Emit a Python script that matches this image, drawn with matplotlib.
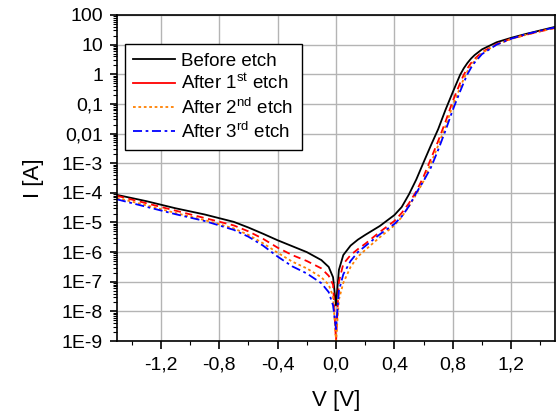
import numpy as np
import matplotlib
matplotlib.use("Agg")
import matplotlib.pyplot as plt
from matplotlib.lines import Line2D

plt.rcParams['font.family'] = ['Liberation Sans', 'DejaVu Sans']
plt.rcParams['mathtext.default'] = 'regular'

# bias points (V) shared by all sweeps
voltage = [-1.5, -1.3, -1.1, -0.9, -0.7, -0.6, -0.5, -0.4, -0.3, -0.2, -0.1, -0.05, -0.02,
           0.0, 0.02, 0.05, 0.1, 0.15, 0.2, 0.3, 0.4, 0.45, 0.5, 0.55, 0.6, 0.65, 0.7,
           0.75, 0.8, 0.85, 0.875, 0.9, 0.925, 0.95, 1.0, 1.1, 1.2, 1.3, 1.4, 1.5]

# log10 of |I| for each sweep
log_before = [-4.07, -4.28, -4.52, -4.73, -4.98, -5.17, -5.38, -5.6, -5.8, -6.0, -6.27, -6.5, -6.85,
              -7.8, -6.6, -6.1, -5.78, -5.58, -5.42, -5.12, -4.75, -4.48, -4.05, -3.55, -2.97, -2.4, -1.85,
              -1.2, -0.6, -0.02, 0.2, 0.38, 0.53, 0.65, 0.84, 1.08, 1.23, 1.36, 1.48, 1.6]
log_etch1 = [-4.1, -4.35, -4.6, -4.85, -5.1, -5.3, -5.55, -5.85, -6.1, -6.3, -6.55, -6.8, -7.1,
             -9.0, -7.0, -6.4, -6.1, -5.9, -5.72, -5.32, -4.95, -4.68, -4.35, -3.95, -3.45, -2.85, -2.25,
             -1.6, -0.9, -0.3, -0.02, 0.2, 0.38, 0.52, 0.75, 1.02, 1.2, 1.33, 1.45, 1.56]
log_etch2 = [-4.17, -4.42, -4.68, -4.92, -5.2, -5.42, -5.7, -6.02, -6.32, -6.55, -6.85, -7.1, -7.5,
             -9.0, -7.6, -7.04, -6.5, -6.15, -5.93, -5.5, -5.1, -4.82, -4.45, -4.05, -3.6, -3.0, -2.4,
             -1.75, -1.05, -0.45, -0.15, 0.1, 0.3, 0.46, 0.72, 1.0, 1.19, 1.33, 1.45, 1.56]
log_etch3 = [-4.22, -4.47, -4.72, -4.95, -5.25, -5.48, -5.78, -6.15, -6.48, -6.72, -7.05, -7.35, -7.8,
             -8.6, -7.3, -6.75, -6.3, -6.0, -5.8, -5.4, -5.05, -4.8, -4.45, -4.0, -3.6, -3.15, -2.55,
             -1.9, -1.2, -0.58, -0.28, 0.0, 0.22, 0.4, 0.68, 1.0, 1.2, 1.35, 1.47, 1.58]

y_ticks = [1e2, 1e1, 1e0, 1e-1, 1e-2, 1e-3, 1e-4, 1e-5, 1e-6, 1e-7, 1e-8, 1e-9]
y_labels = ['100', '10', '1', '0,1', '0,01', '1E-3', '1E-4', '1E-5', '1E-6', '1E-7', '1E-8', '1E-9']
x_ticks = [-1.2, -0.8, -0.4, 0.0, 0.4, 0.8, 1.2]
x_labels = ['-1,2', '-0,8', '-0,4', '0,0', '0,4', '0,8', '1,2']

fig = plt.figure(figsize=(5.56, 4.12), dpi=100)
ax = fig.add_axes([0.2104, 0.1723, 0.7878, 0.7913])

V = np.array(voltage)
ax.plot(V, 10 ** np.array(log_before), color='black', lw=1.3, ls='-')
ax.plot(V, 10 ** np.array(log_etch1), color='#ff0000', lw=1.3, ls=(0, (4, 2.5)))
ax.plot(V, 10 ** np.array(log_etch2), color='#ff8000', lw=1.3, ls=(0, (1.5, 1.5)))
ax.plot(V, 10 ** np.array(log_etch3), color='#0000ff', lw=1.3, ls=(0, (5, 2, 1.5, 2)))

ax.set_yscale('log')
ax.set_xlim(-1.5, 1.5)
ax.set_ylim(1e-9, 100)
ax.set_yticks(y_ticks)
ax.set_yticklabels(y_labels)
ax.set_xticks(x_ticks)
ax.set_xticklabels(x_labels)
ax.set_xticks(np.arange(-1.4, 1.5, 0.4), minor=True)
ax.yaxis.set_minor_locator(matplotlib.ticker.LogLocator(base=10, subs=np.arange(2, 10), numticks=20))
ax.yaxis.set_minor_formatter(matplotlib.ticker.NullFormatter())

ax.tick_params(which='major', direction='out', width=1.2, labelsize=14)
ax.tick_params(axis='y', which='major', length=5, pad=5)
ax.tick_params(axis='x', which='major', length=6, pad=5)
ax.tick_params(which='minor', direction='out', length=3, width=0.8)
ax.grid(True, which='major', color='#b4b4b4', lw=1.0)
for s in ax.spines.values():
    s.set_linewidth(1.2)

ax.set_xlabel('V [V]', fontsize=16, labelpad=12)
ax.set_ylabel('I [A]', fontsize=16, labelpad=13)

# legend keys: the first-etch key is drawn solid
handles = [
    Line2D([], [], color='black', lw=1.3, ls='-'),
    Line2D([], [], color='#ff0000', lw=1.3, ls='-'),
    Line2D([], [], color='#ff8000', lw=1.3, ls=(0, (1.5, 1.5))),
    Line2D([], [], color='#0000ff', lw=1.3, ls=(0, (5, 2, 1.5, 2))),
]
labels = ['Before etch', 'After 1$^{st}$ etch', 'After 2$^{nd}$ etch', 'After 3$^{rd}$ etch']
leg = ax.legend(handles, labels, loc='upper left', bbox_to_anchor=(0.018, 0.911),
                borderaxespad=0, fontsize=13.5, frameon=True, fancybox=False,
                edgecolor='black', framealpha=1, handlelength=2.2, handletextpad=0.35,
                borderpad=0.45, labelspacing=0.22)
leg.get_frame().set_linewidth(1.0)

fig.savefig('out.png', dpi=100)
